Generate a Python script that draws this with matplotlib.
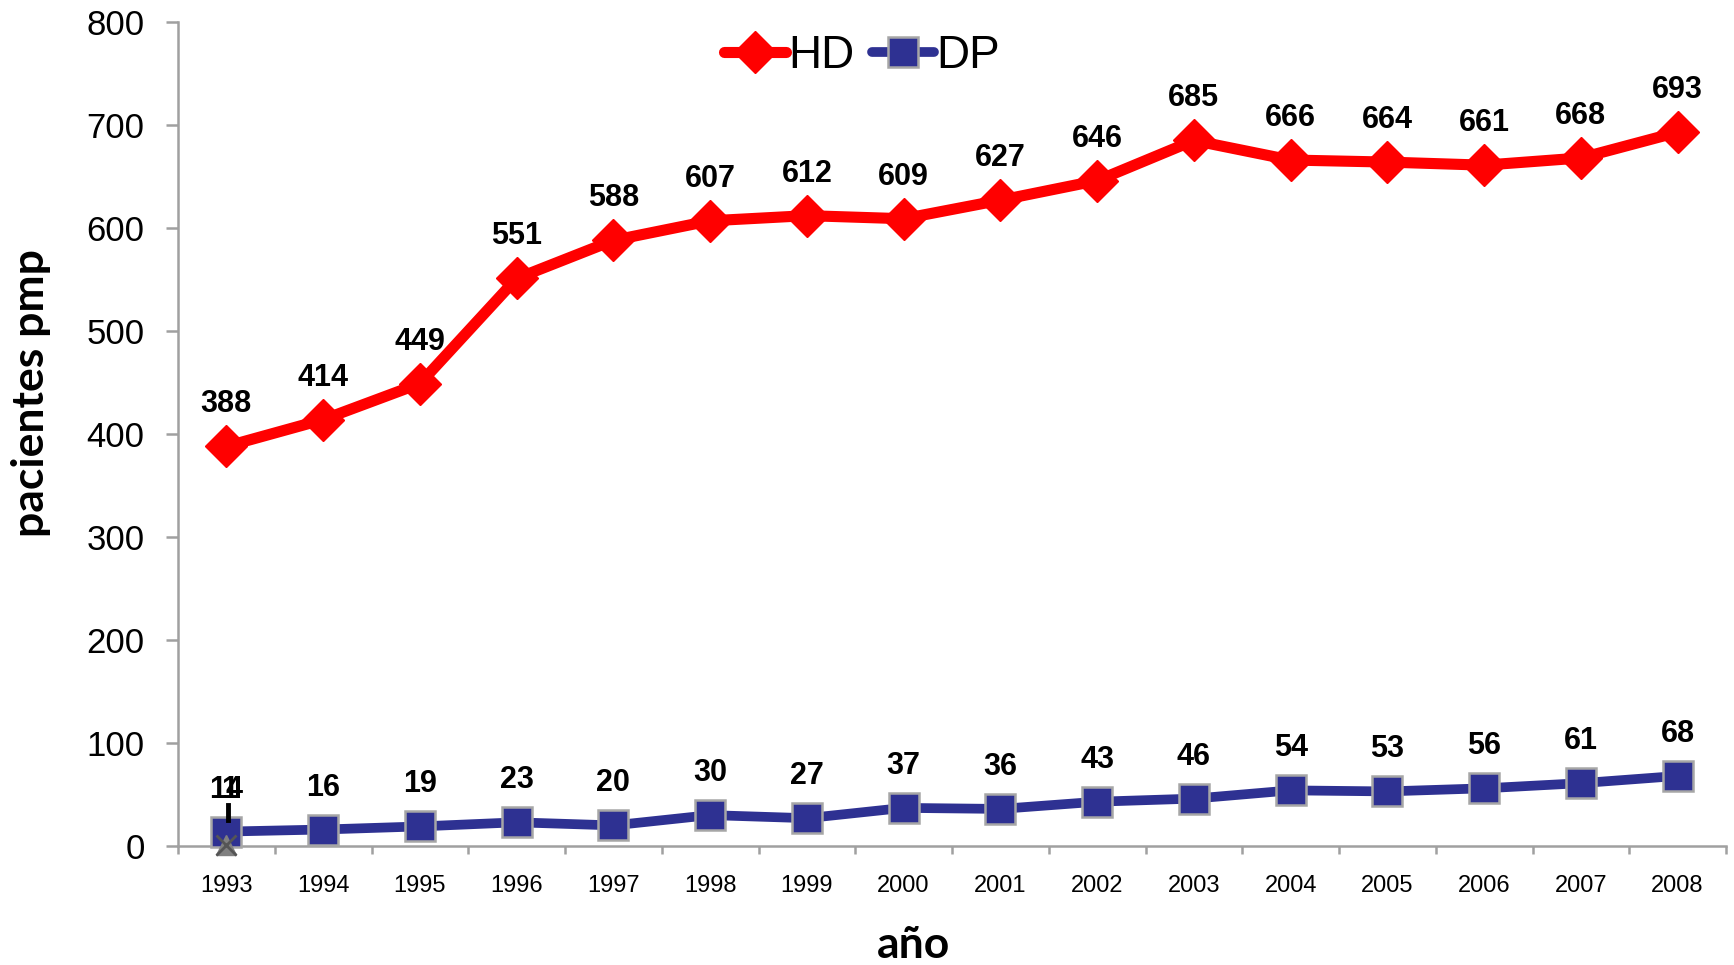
import matplotlib
matplotlib.use("Agg")
import matplotlib.pyplot as plt
from matplotlib.lines import Line2D

years = ["1993", "1994", "1995", "1996", "1997", "1998", "1999", "2000",
         "2001", "2002", "2003", "2004", "2005", "2006", "2007", "2008"]
hd = [388, 414, 449, 551, 588, 607, 612, 609, 627, 646, 685, 666, 664, 661, 668, 693]
dp = [14, 16, 19, 23, 20, 30, 27, 37, 36, 43, 46, 54, 53, 56, 61, 68]
other_x = [0]
other_y = [1]
other_labels = ["1"]
yticks = [0, 100, 200, 300, 400, 500, 600, 700, 800]

plt.rcParams['font.family'] = ['Liberation Sans', 'DejaVu Sans']

fig = plt.figure(figsize=(17.34, 9.65), dpi=100)
ax = fig.add_axes([178/1734, 1-846/965, (1726-178)/1734, (846-22)/965])

x = list(range(len(years)))
red = '#FF0000'
blue = '#2E3192'
gray = '#A0A0A0'

ax.plot(x, hd, color=red, lw=8, marker='D', markersize=21, markerfacecolor=red,
        markeredgecolor=red, solid_capstyle='round', label='HD', zorder=3)
ax.plot(x, dp, color=blue, lw=7, marker='s', markersize=21, markerfacecolor=blue,
        markeredgecolor='#A6A6A6', markeredgewidth=1.8, solid_capstyle='round',
        label='DP', zorder=3)
ax.plot(other_x, other_y, linestyle='none', marker='^', markersize=14,
        markerfacecolor='#808080', markeredgecolor='#808080', zorder=4)
ax.plot(other_x, other_y, linestyle='none', marker='x', markersize=14,
        markeredgecolor='#555555', markeredgewidth=2, zorder=5)

for xi, v in zip(x, hd):
    ax.annotate(str(v), (xi, v), xytext=(0, 42), textcoords='offset pixels',
                ha='center', va='center', fontsize=22, fontweight='bold')
for xi, v in zip(x, dp):
    ax.annotate(str(v), (xi, v), xytext=(0, 42), textcoords='offset pixels',
                ha='center', va='center', fontsize=22, fontweight='bold')
for xi, v, lab in zip(other_x, other_y, other_labels):
    ax.annotate(lab, (xi, dp[xi]), xytext=(3, 42), textcoords='offset pixels',
                ha='center', va='center', fontsize=22, fontweight='bold')
    ax.plot([xi + 0.02, xi + 0.02], [dp[xi] + 11, dp[xi] + 26], color='black', lw=3.5,
            zorder=6)

ax.set_xlim(-0.5, len(years) - 0.5)
ax.set_ylim(0, 800)
ax.set_yticks(yticks)
ax.set_yticklabels([str(t) for t in yticks])
ax.set_xticks(x)
ax.set_xticklabels(years)
ax.set_xticks([i - 0.5 for i in range(len(years) + 1)], minor=True)

for s in ['top', 'right']:
    ax.spines[s].set_visible(False)
for s in ['left', 'bottom']:
    ax.spines[s].set_color(gray)
    ax.spines[s].set_linewidth(1.8)

ax.tick_params(axis='y', direction='out', length=9, width=1.8, color=gray,
               labelsize=25, pad=15)
ax.tick_params(axis='x', which='major', length=0, labelsize=17, pad=21)
ax.tick_params(axis='x', which='minor', length=6, width=1.8, color=gray)
for ln in ax.lines:
    ln.set_clip_on(False)

fig.text(914/1734, 7/965, 'año', ha='center', va='baseline', fontsize=32,
         fontweight='bold', family=['Lato', 'DejaVu Sans'])
fig.text(31/1734, 1-393/965, 'pacientes pmp', ha='center', va='center',
         rotation=90, fontsize=32, fontweight='bold', family=['Lato', 'DejaVu Sans'])

handles = [Line2D([], [], color=red, lw=8, marker='D', markersize=21, markerfacecolor=red,
                  markeredgecolor=red, solid_capstyle='round'),
           Line2D([], [], color=blue, lw=7, marker='s', markersize=21, markerfacecolor=blue,
                  markeredgecolor='#A6A6A6', markeredgewidth=1.8, solid_capstyle='round')]
fig.legend(handles, ['HD', 'DP'], loc='center', bbox_to_anchor=(862/1734, 1-56/965),
           ncol=2, frameon=False, fontsize=33, handlelength=1.35, handletextpad=0.05,
           columnspacing=0.4, borderpad=0, borderaxespad=0)

fig.savefig('out.png', dpi=100)
